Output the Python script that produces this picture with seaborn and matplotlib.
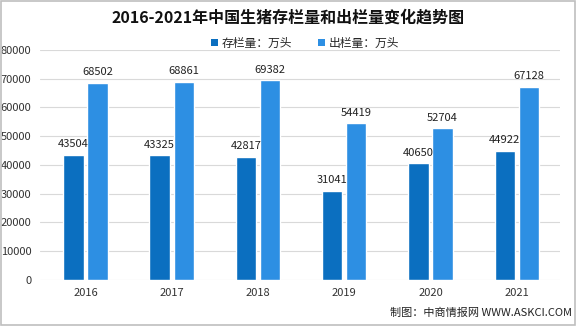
import matplotlib
matplotlib.use("Agg")
import matplotlib.pyplot as plt
import seaborn as sns
import pandas as pd
from matplotlib.patches import Patch

years = ["2016", "2017", "2018", "2019", "2020", "2021"]
stock = [43504, 43325, 42817, 31041, 40650, 44922]
slaughter = [68502, 68861, 69382, 54419, 52704, 67128]
series_names = ["存栏量：万头", "出栏量：万头"]
y_ticks = [0, 10000, 20000, 30000, 40000, 50000, 60000, 70000, 80000]

df = pd.DataFrame({
    "year": years * 2,
    "value": stock + slaughter,
    "series": [series_names[0]] * len(years) + [series_names[1]] * len(years),
})

sns.set_theme(style="white")
plt.rcParams["font.family"] = ["Noto Sans CJK SC", "DejaVu Sans"]

fig = plt.figure(figsize=(5.76, 3.26), dpi=100)
ax = fig.add_axes([0.069, 0.141, 0.903, 0.706])

palette = {series_names[0]: "#0B6FC0", series_names[1]: "#2D8FE3"}
sns.barplot(data=df, x="year", y="value", hue="series", palette=palette,
            width=0.56, gap=0.16, ax=ax, legend=False, saturation=1)

for container in ax.containers:
    ax.bar_label(container, fmt="%d", padding=4, fontsize=8, color="#222222")

ax.set_ylim(0, 80000)
ax.set_yticks(y_ticks)
ax.set_yticklabels([str(t) for t in y_ticks], fontsize=8, color="#333333")
ax.set_xlim(-0.53, 5.5)
ax.tick_params(axis="x", labelsize=8, colors="#333333", length=0, pad=6)
ax.tick_params(axis="y", length=0, pad=6)
ax.set_xlabel("")
ax.set_ylabel("")
ax.yaxis.grid(True, color="#D9D9D9", linewidth=0.8)
ax.set_axisbelow(True)
for s in ax.spines.values():
    s.set_visible(False)

# legend with small square markers
handles = [Patch(facecolor=palette[n], edgecolor="none") for n in series_names]
fig.legend(handles, series_names, loc="center", bbox_to_anchor=(0.53, 0.868),
           ncol=2, frameon=False, fontsize=8.5, handlelength=0.6, handleheight=0.6,
           handletextpad=0.3, columnspacing=2.2)

fig.text(0.5, 0.945, "2016-2021年中国生猪存栏量和出栏量变化趋势图",
         ha="center", va="center", fontsize=11.5, fontweight="bold", color="#111111")
fig.text(0.993, 0.04, "制图：中商情报网 WWW.ASKCI.COM", ha="right", va="center",
         fontsize=8, color="#222222")

# light gray frame around the figure
fig.patches.append(plt.Rectangle((0.002, 0.003), 0.996, 0.994, transform=fig.transFigure,
                                 fill=False, edgecolor="#BFBFBF", linewidth=1.2))

fig.savefig("out.png", dpi=100)
